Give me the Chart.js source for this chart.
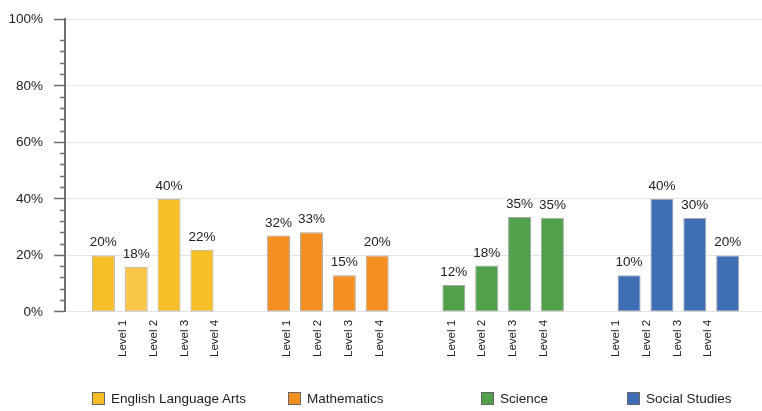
<!DOCTYPE html>
<html>
<head>
<meta charset="utf-8">
<title>Performance Levels by Subject</title>
<script src="https://cdn.jsdelivr.net/npm/chart.js@4/dist/chart.umd.min.js"></script>
<style>
  html, body { margin: 0; padding: 0; background: #fff; overflow: hidden; }
  #frame { position: relative; width: 762px; height: 411px; overflow: hidden; }
  /* plot runs a few px past the right edge so the groups line up with the original */
  #wrap { position: absolute; left: 0; top: 0; width: 766px; height: 411px; }
  #legend { position: absolute; left: 0; top: 392px; width: 762px; height: 16px;
            font: 13.5px 'Liberation Sans', Arial, sans-serif; color: #222; }
  #legend .item { position: absolute; top: 0; white-space: nowrap; line-height: 14px; }
  #legend .box { display: inline-block; width: 11px; height: 11px; border: 1px solid #666;
                 vertical-align: -2px; margin-right: 6px; }
</style>
</head>
<body>
<div id="frame">
  <div id="wrap"><canvas id="levelChart"></canvas></div>
  <div id="legend"></div>
</div>
<script>
// ── 資料 ──────────────────────────────────────────────
const subjects = ['English Language Arts', 'Mathematics', 'Science', 'Social Studies'];
const levels   = ['Level 1', 'Level 2', 'Level 3', 'Level 4'];

// bar heights as drawn (%)
const elaValues     = [20, 16, 40, 22];
const mathValues    = [27, 28.2, 13, 20];
const scienceValues = [9.5, 16.4, 33.6, 33.3];
const socialValues  = [13, 40, 33.2, 20];

// printed labels above bars
const elaLabels     = ['20%', '18%', '40%', '22%'];
const mathLabels    = ['32%', '33%', '15%', '20%'];
const scienceLabels = ['12%', '18%', '35%', '35%'];
const socialLabels  = ['10%', '40%', '30%', '20%'];

const yTopTick   = 103.6;      // axis top, labelled "100%"
const yMinorStep = 4;
const yMajorStep = 20;

// ── 樣式 ──────────────────────────────────────────────
const subjectColors = ['#F7BF27', '#F58F22', '#50A04C', '#3F6EB5'];
const elaLevel2Color = '#F9C648';
const legendLeft = [92, 288, 481, 627];
const CAT_PCT = 0.75;
const BAR_PCT = 0.70;

Chart.defaults.font.family = "'Liberation Sans', Arial, sans-serif";
Chart.defaults.color = '#222';

const valueRows = [elaValues, mathValues, scienceValues, socialValues];
const labelRows = [elaLabels, mathLabels, scienceLabels, socialLabels];

// one dataset per level, grouped under each subject
const datasets = levels.map((lv, j) => ({
  label: lv,
  data: valueRows.map(row => row[j]),
  backgroundColor: subjectColors.map((c, k) => (k === 0 && j === 1) ? elaLevel2Color : c),
  borderColor: '#A8A8A8',
  borderWidth: 1,
  borderSkipped: false,
  categoryPercentage: CAT_PCT,
  barPercentage: BAR_PCT,
}));

const isMajor = v => Math.abs(v % yMajorStep) < 1e-6 || v === yTopTick;

// 數值標籤
const barLabelPlugin = {
  id: 'barLabels',
  afterDatasetsDraw(chart) {
    const ctx = chart.ctx;
    ctx.save();
    ctx.font = "13.5px 'Liberation Sans', Arial, sans-serif";
    ctx.fillStyle = '#222';
    ctx.textAlign = 'center';
    ctx.textBaseline = 'alphabetic';
    chart.data.datasets.forEach((ds, j) => {
      chart.getDatasetMeta(j).data.forEach((bar, k) => {
        ctx.fillText(labelRows[k][j], bar.x, bar.y - 9);
      });
    });
    ctx.restore();
  }
};

new Chart(document.getElementById('levelChart'), {
  type: 'bar',
  data: { labels: subjects, datasets },
  plugins: [barLabelPlugin],
  options: {
    responsive: true,
    maintainAspectRatio: false,
    animation: false,
    layout: { padding: { top: 18, right: 0, bottom: 46, left: 0 } },
    plugins: { legend: { display: false }, tooltip: { enabled: false } },
    scales: {
      x: { display: false },
      // 每根柱子下方的 Level 標籤
      lv: {
        type: 'linear',
        position: 'bottom',
        min: -0.5,
        max: subjects.length - 0.5,
        grid: { display: false, drawTicks: false },
        border: { display: false },
        afterBuildTicks: scale => {
          const ticks = [];
          subjects.forEach((s, k) => {
            levels.forEach((lv, j) => {
              ticks.push({ value: k + (j - (levels.length - 1) / 2) * CAT_PCT / levels.length });
            });
          });
          scale.ticks = ticks;
        },
        ticks: {
          autoSkip: false,
          minRotation: 90,
          maxRotation: 90,
          padding: 8,
          font: { size: 11.5 },
          color: '#222',
          callback: (v, i) => levels[i % levels.length]
        }
      },
      y: {
        min: 0,
        max: yTopTick,
        afterFit: scale => { scale.width = 65; },
        afterBuildTicks: scale => {
          const ticks = [];
          for (let v = 0; v < 100; v += yMinorStep) ticks.push({ value: v });
          ticks.push({ value: yTopTick });
          scale.ticks = ticks;
        },
        border: { display: true, color: '#6E6E6E', width: 2 },
        grid: {
          color: c => (c.tick && isMajor(c.tick.value)) ? '#E4E4E4' : 'rgba(0,0,0,0)',
          lineWidth: 1,
          tickColor: '#6E6E6E',
          tickLength: 11,
          tickWidth: 1.5,
          // minor ticks: skip the outer 6px, draw only the 5px next to the axis
          tickBorderDash: c => (c.tick && isMajor(c.tick.value)) ? [] : [0, 6, 5, 100],
        },
        ticks: {
          autoSkip: false,
          padding: 11,
          font: { size: 13.5 },
          color: '#222',
          callback: v => v === yTopTick ? '100%' : (v % yMajorStep === 0 ? v + '%' : '')
        }
      }
    }
  }
});

// ── 圖例 ──────────────────────────────────────────────
const legendEl = document.getElementById('legend');
subjects.forEach((s, k) => {
  const item = document.createElement('span');
  item.className = 'item';
  item.style.left = legendLeft[k] + 'px';
  item.innerHTML = `<span class="box" style="background:${subjectColors[k]}"></span>${s}`;
  legendEl.appendChild(item);
});
</script>
</body>
</html>
